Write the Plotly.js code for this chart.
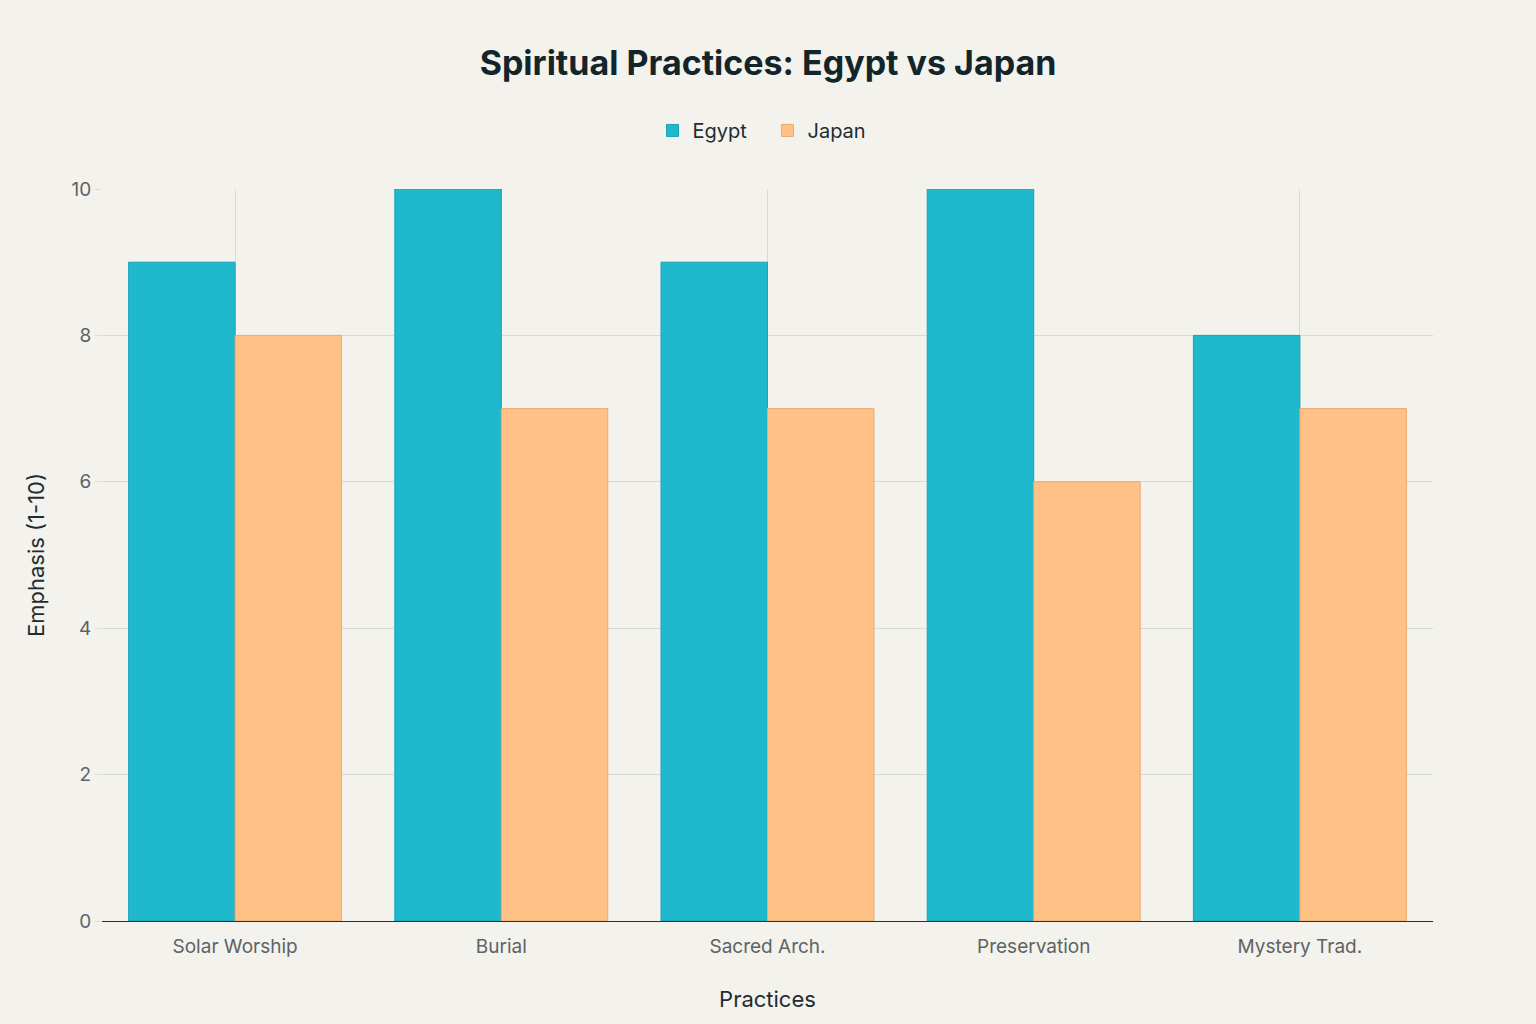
<!DOCTYPE html>
<html>
<head>
<meta charset="utf-8">
<script src="https://cdn.plot.ly/plotly-3.0.1.min.js"></script>
<style>html,body{margin:0;padding:0;background:#F3F2EC;}#chart{width:1536px;height:1024px;}</style>
</head>
<body>
<div id="chart"></div>
<script>
const categories = ["Solar Worship", "Burial", "Sacred Arch.", "Preservation", "Mystery Trad."];
const egypt = [9, 10, 9, 10, 8];
const japan = [8, 7, 7, 6, 7];

const font = "Inter, 'Open Sans', sans-serif";
const data = [
  {type: 'bar', name: 'Egypt', x: categories, y: egypt,
   marker: {color: '#1FB8CD', line: {color: '#1aa3b6', width: 1}}},
  {type: 'bar', name: 'Japan', x: categories, y: japan,
   marker: {color: '#FFC185', line: {color: '#e8ab75', width: 1}}}
];
const layout = {
  width: 1536, height: 1024,
  paper_bgcolor: '#F3F2EC', plot_bgcolor: '#F3F2EC',
  font: {family: font, color: '#1f2d33'},
  margin: {l: 102, r: 103, t: 189, b: 103},
  barmode: 'group', bargap: 0.2, bargroupgap: 0,
  title: {text: '<b>Spiritual Practices: Egypt vs Japan</b>', x: 0.5, xanchor: 'center', y: 0.938, yanchor: 'middle',
          font: {size: 34, color: '#13252b', family: font}},
  legend: {orientation: 'h', x: 0.5, xanchor: 'center', y: 1.08, yanchor: 'middle',
           entrywidth: 70, entrywidthmode: 'pixels',
           font: {size: 20, color: '#1f2d33'}, bgcolor: 'rgba(0,0,0,0)'},
  xaxis: {title: {text: 'Practices', font: {size: 22, color: '#1f2d33'}, standoff: 34},
          tickfont: {size: 19, color: '#5d6366'},
          showgrid: true, gridcolor: '#d9d9d6', showline: true, linecolor: '#2a2f31', linewidth: 1,
          ticks: 'outside', ticklen: 8, tickcolor: 'rgba(0,0,0,0)', automargin: false},
  yaxis: {title: {text: 'Emphasis (1-10)', font: {size: 22, color: '#1f2d33'}, standoff: 20},
          range: [0, 10], dtick: 2, tickfont: {size: 19, color: '#5d6366'},
          showgrid: true, gridcolor: '#d9d9d6', zeroline: false,
          ticks: 'outside', ticklen: 6, tickcolor: '#d9d9d6', automargin: false}
};
Plotly.newPlot('chart', data, layout, {displayModeBar: false});
</script>
</body>
</html>
